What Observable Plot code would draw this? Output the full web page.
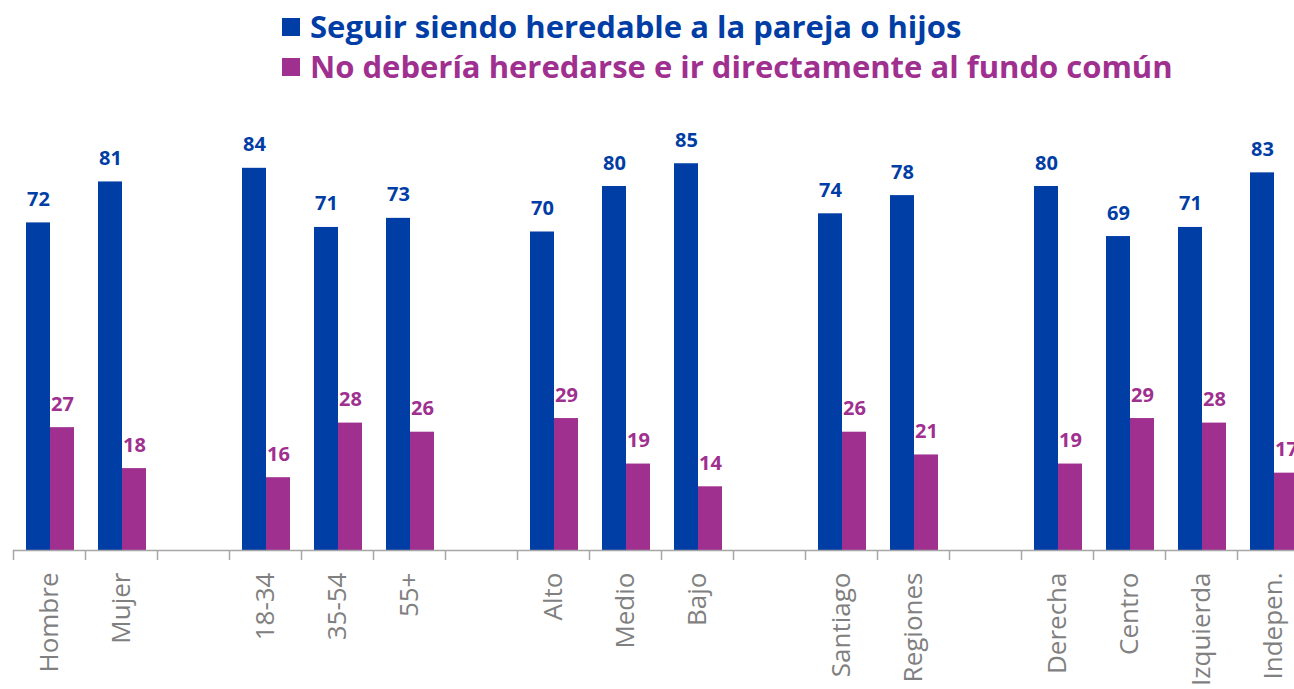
<!DOCTYPE html>
<html>
<head>
<meta charset="utf-8">
<script src="https://cdn.jsdelivr.net/npm/d3@7"></script>
<script src="https://cdn.jsdelivr.net/npm/@observablehq/plot@0.6"></script>
<style>
  html, body { margin: 0; padding: 0; background: #fff; overflow: hidden; }
  #wrap { position: relative; width: 1294px; height: 689px; overflow: hidden; }
  #legend { position: relative; height: 90px; font-family: "Open Sans", sans-serif; font-weight: 700; }
  .item { position: absolute; left: 282px; white-space: nowrap; display: flex; align-items: center; }
  .sw { width: 18px; height: 18px; margin-right: 10px; }
  .lbl { font-size: 31px; line-height: 1; }
  #chart { position: absolute; top: 90px; left: 0; }
</style>
</head>
<body>
<div id="wrap">
  <div id="legend"></div>
  <div id="chart"></div>
</div>
<script>
// ---- data ----
const categories = ["Hombre", "Mujer", null, "18-34", "35-54", "55+", null, "Alto", "Medio", "Bajo", null, "Santiago", "Regiones", null, "Derecha", "Centro", "Izquierda", "Indepen."];
const heredable = [72, 81, null, 84, 71, 73, null, 70, 80, 85, null, 74, 78, null, 80, 69, 71, 83];
const fondoComun = [27, 18, null, 16, 28, 26, null, 29, 19, 14, null, 26, 21, null, 19, 29, 28, 17];
const seriesNames = ["Seguir siendo heredable a la pareja o hijos", "No debería heredarse e ir directamente al fundo común"];
const colors = ["#003DA5", "#A03090"];

// ---- build ----
let gap = 0;
const keys = categories.map(c => c === null ? " ".repeat(++gap) : c);
const rows = keys.map((k, i) => ({cat: k, label: categories[i], a: heredable[i], b: fondoComun[i]})).filter(d => d.label !== null);

const legend = document.getElementById("legend");
seriesNames.forEach((name, i) => {
  const it = document.createElement("div");
  it.className = "item";
  it.style.top = (i === 0 ? 11 : 51) + "px";
  it.innerHTML = `<div class="sw" style="background:${colors[i]}"></div><div class="lbl" style="color:${colors[i]}">${name}</div>`;
  legend.appendChild(it);
});

const chart = Plot.plot({
  width: 1310,
  height: 599,
  marginLeft: 13,
  marginRight: 1,
  marginTop: 5,
  marginBottom: 139,
  style: {fontFamily: "Open Sans, sans-serif", background: "transparent", maxWidth: "none", overflow: "visible"},
  x: {type: "band", domain: keys, padding: 0, axis: null, label: null},
  y: {domain: [0, 100], axis: null},
  marks: [
    Plot.barY(rows, {x: "cat", y: "a", fill: colors[0], insetLeft: 13, insetRight: 35}),
    Plot.barY(rows, {x: "cat", y: "b", fill: colors[1], insetLeft: 37, insetRight: 11}),
    Plot.text(rows, {x: "cat", y: "a", text: d => String(d.a), dx: -11, dy: -17, lineAnchor: "bottom", fill: colors[0], fontWeight: "bold", fontSize: 20}),
    Plot.text(rows, {x: "cat", y: "b", text: d => String(d.b), dx: 13, dy: -17, lineAnchor: "bottom", fill: colors[1], fontWeight: "bold", fontSize: 20}),
    Plot.ruleY([0], {stroke: "#A6A6A6", strokeWidth: 1.5}),
    Plot.axisX(keys, {tickSize: 10, dx: -36, tickFormat: () => "", label: null, stroke: "#A6A6A6", strokeWidth: 1.5}),
    Plot.axisX(keys, {tickSize: 0, tickPadding: 22, tickRotate: -90, fontSize: 26, label: null, fill: "#808080", tickFormat: k => categories[keys.indexOf(k)] ?? ""})
  ]
});
document.getElementById("chart").appendChild(chart);
</script>
</body>
</html>
